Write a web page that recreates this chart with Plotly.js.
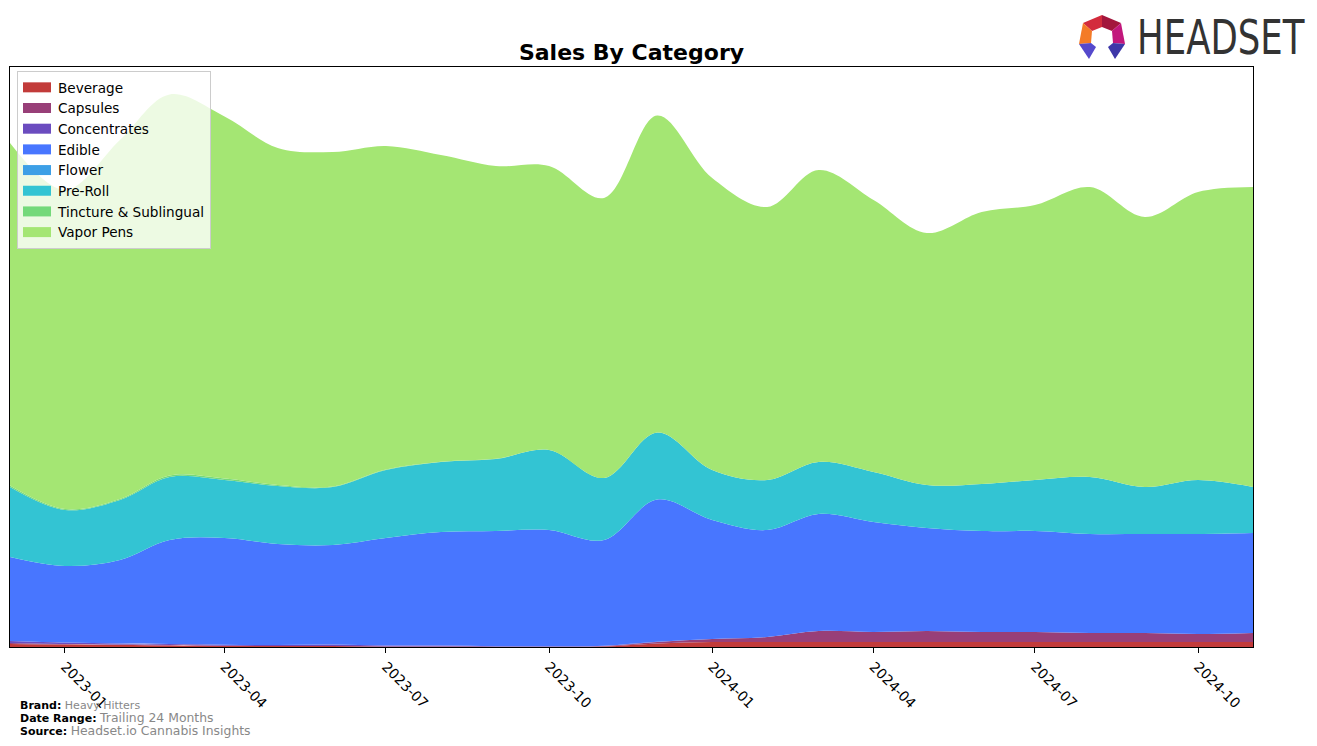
<!DOCTYPE html>
<html>
<head>
<meta charset="utf-8">
<script src="https://cdn.plot.ly/plotly-3.0.1.min.js"></script>
<style>
  html, body { margin: 0; padding: 0; background: #fff; }
  #chart { width: 1317px; height: 746px; }
</style>
</head>
<body>
<div id="chart"></div>
<script>
// Monthly periods (Dec 2022 .. Nov 2024)
const months = [
  '2022-12-01','2023-01-01','2023-02-01','2023-03-01','2023-04-01','2023-05-01',
  '2023-06-01','2023-07-01','2023-08-01','2023-09-01','2023-10-01','2023-11-01',
  '2023-12-01','2024-01-01','2024-02-01','2024-03-01','2024-04-01','2024-05-01',
  '2024-06-01','2024-07-01','2024-08-01','2024-09-01','2024-10-01','2024-11-01'
];

const categories = ['Beverage','Capsules','Concentrates','Edible','Flower','Pre-Roll','Tincture & Sublingual','Vapor Pens'];

// Sales values (relative units)
const beverage     = [3, 2.5, 2, 1.5, 1, 1, 1, 0.5, 0.5, 0.3, 0.2, 0.5, 3.5, 5, 5, 5, 5, 5, 5, 5, 5, 5, 5, 5];
const capsules     = [1, 0.5, 0.5, 0.5, 0.3, 0, 0, 0, 0, 0, 0, 0.5, 1.5, 3, 5, 11, 10, 11, 10, 10, 9, 9, 8, 9];
const concentrates = [2, 1.5, 1, 1, 1, 1, 1.5, 1, 1, 0.5, 0.5, 0.3, 0.2, 0, 0, 0, 0, 0, 0, 0, 0, 0, 0, 0];
const edible       = [84, 76.5, 83.5, 104, 106.7, 101, 99.5, 107.5, 113.5, 115.2, 116.3, 105.7, 142.3, 119, 107, 117, 110, 103, 101, 101, 99, 99, 100, 100];
const flower       = [0, 0, 0, 0, 0, 0, 0, 0, 0, 0, 0, 0, 0, 0, 0, 0, 0, 0, 0, 0, 0, 0, 0, 0];
const preRoll      = [70, 56, 60, 63, 58, 58, 58, 68, 70, 72, 80, 62, 67, 50, 50, 52, 50, 43, 47, 51, 57, 47, 54, 46];
const tincture     = [1.5, 1, 1, 1.5, 1.5, 1, 0.5, 0.5, 0.3, 0.2, 0.1, 0, 0, 0, 0, 0, 0, 0, 0, 0, 0, 0, 0, 0];
const vaporPens    = [342.5, 319, 359, 381, 362, 337, 334.5, 323.5, 306.7, 292.8, 283.9, 280, 317, 292, 273, 292, 272, 252, 272, 275, 290, 270, 288, 300];

const tickVals   = ['2023-01-01','2023-04-01','2023-07-01','2023-10-01','2024-01-01','2024-04-01','2024-07-01','2024-10-01'];
const tickLabels = ['2023-01','2023-04','2023-07','2023-10','2024-01','2024-04','2024-07','2024-10'];

const seriesValues = [beverage, capsules, concentrates, edible, flower, preRoll, tincture, vaporPens];
const colors = ['#c23b3a','#983f78','#6b4cbf','#4876ff','#3d9fe6','#33c4d3','#74d97a','#a4e673'];

const traces = categories.map((name, i) => ({
  type: 'scatter',
  mode: 'lines',
  name: name,
  x: months,
  y: seriesValues[i],
  stackgroup: 'one',
  line: { width: 0, shape: 'spline', smoothing: 1, color: colors[i] },
  fillcolor: colors[i],
  hoverinfo: 'x+y+name'
}));

// pixel -> paper helpers for decoration placement
const PL = 10, PR = 1253, PT = 67, PB = 647;
const px = v => (v - PL) / (PR - PL);
const py = v => (PB - v) / (PB - PT);
function poly(pts, color) {
  const d = pts.map((p, k) => (k ? 'L' : 'M') + px(p[0]).toFixed(5) + ',' + py(p[1]).toFixed(5)).join(' ') + ' Z';
  return { type: 'path', xref: 'paper', yref: 'paper', path: d, fillcolor: color, line: { width: 0 } };
}
const O0=[1102,15], O1=[1121,23], O2=[1125,44], O3=[1115,59], O4=[1079,44], O5=[1083,23], O6=[1089,59];
const I0=[1102,27], I1=[1112,31], I2=[1113,43], I4=[1091,43], I5=[1092,31];
const logoShapes = [
  poly([O5,O0,I0,I5], '#d32b3c'),
  poly([O0,O1,I1,I0], '#a3163c'),
  poly([O1,O2,I2,I1], '#c2177c'),
  poly([O5,I5,I4,O4], '#f47b27'),
  poly([I2,O2,O3,[1108,47]], '#3d37a8'),
  poly([I4,O4,O6,[1096,47]], '#5549cc')
];

const layout = {
  width: 1317,
  height: 746,
  margin: { l: PL, r: 1317 - PR, t: PT, b: 746 - PB, pad: 0 },
  paper_bgcolor: '#ffffff',
  plot_bgcolor: '#ffffff',
  font: { family: 'DejaVu Sans, sans-serif', color: '#000' },
  title: {
    text: '<b>Sales By Category</b>',
    font: { family: 'DejaVu Sans, sans-serif', size: 22, color: '#000' },
    x: px(631.5), xanchor: 'center', xref: 'paper',
    y: 1 - 52 / 746, yanchor: 'middle'
  },
  showlegend: true,
  legend: {
    x: px(17), y: py(71), xanchor: 'left', yanchor: 'top',
    bgcolor: 'rgba(255,255,255,0.8)', bordercolor: '#cccccc', borderwidth: 1,
    font: { family: 'DejaVu Sans, sans-serif', size: 13.6, color: '#000' },
    traceorder: 'normal'
  },
  xaxis: {
    type: 'date',
    range: ['2022-12-01', '2024-11-01'],
    tickvals: tickVals,
    ticktext: tickLabels,
    tickangle: 45,
    ticks: 'outside', ticklen: 5, tickwidth: 1, tickcolor: '#000',
    tickfont: { family: 'DejaVu Sans, sans-serif', size: 14, color: '#000' },
    showgrid: false, zeroline: false,
    showline: true, linecolor: '#000', linewidth: 1, mirror: true
  },
  yaxis: {
    range: [0, 580],
    showticklabels: false, ticks: '',
    showgrid: false, zeroline: false,
    showline: true, linecolor: '#000', linewidth: 1, mirror: true
  },
  shapes: logoShapes,
  annotations: [
    {
      xref: 'paper', yref: 'paper', x: px(1135), y: py(37), xanchor: 'left', yanchor: 'middle',
      text: 'HEADSET', showarrow: false,
      font: { family: 'DejaVu Sans, sans-serif', size: 48, color: '#333333' }
    },
    {
      xref: 'paper', yref: 'paper', x: px(18), y: py(705), xanchor: 'left', yanchor: 'middle',
      showarrow: false, align: 'left',
      text: '<b>Brand:</b> <span style="color:#888888">Heavy Hitters</span>',
      font: { family: 'DejaVu Sans, sans-serif', size: 11, color: '#000' }
    },
    {
      xref: 'paper', yref: 'paper', x: px(18), y: py(717), xanchor: 'left', yanchor: 'middle',
      showarrow: false, align: 'left',
      text: '<b>Date Range:</b> <span style="color:#888888;font-size:12.4px">Trailing 24 Months</span>',
      font: { family: 'DejaVu Sans, sans-serif', size: 11, color: '#000' }
    },
    {
      xref: 'paper', yref: 'paper', x: px(18), y: py(730), xanchor: 'left', yanchor: 'middle',
      showarrow: false, align: 'left',
      text: '<b>Source:</b> <span style="color:#888888;font-size:12.4px">Headset.io Cannabis Insights</span>',
      font: { family: 'DejaVu Sans, sans-serif', size: 11, color: '#000' }
    }
  ]
};

Plotly.newPlot('chart', traces, layout, { displayModeBar: false, staticPlot: true }).then(gd => {
  // matplotlib-like rectangular legend patches
  gd.querySelectorAll('.legend .legendfill path').forEach(p => {
    p.setAttribute('d', 'M5,-5h28v10h-28z');
  });
  gd.querySelectorAll('.legend .legendlines path').forEach(p => p.style.display = 'none');
  // condensed logo wordmark
  gd.querySelectorAll('.annotation-text').forEach(t => {
    if (t.textContent === 'HEADSET') {
      t.style.transformBox = 'fill-box';
      t.style.transformOrigin = 'left center';
      t.style.transform = 'scaleX(0.74)';
    }
  });
});
</script>
</body>
</html>
